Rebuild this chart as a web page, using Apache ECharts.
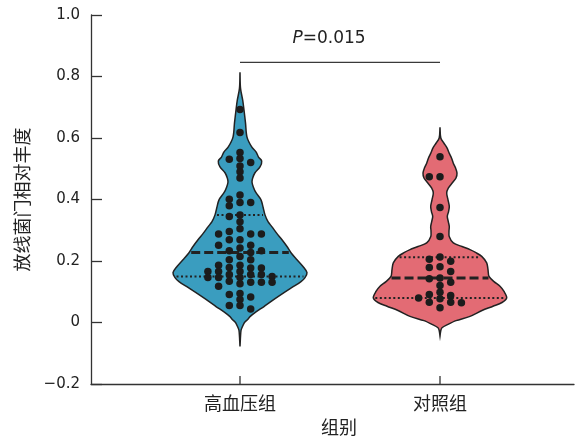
<!DOCTYPE html>
<html>
<head>
<meta charset="utf-8">
<script src="https://cdn.jsdelivr.net/npm/echarts@6/dist/echarts.min.js"></script>
<style>
  html, body { margin: 0; padding: 0; background: #ffffff; }
  #chart { width: 577px; height: 441px; }
</style>
</head>
<body>
<div id="chart"></div>
<script>
// Groups shown on the x axis
const categories = ['高血压组', '对照组'];

// Relative abundance of Actinobacteria per sample
const hypertensionValues = [
  0.693, 0.618, 0.553, 0.533, 0.531, 0.520, 0.509, 0.490, 0.470, 0.415, 0.401, 0.390, 0.390, 0.380, 0.350, 0.345, 0.328,
  0.305, 0.296, 0.288, 0.288, 0.288, 0.269, 0.269, 0.251, 0.251, 0.242, 0.233, 0.233, 0.228, 0.215, 0.204, 0.204,
  0.186, 0.186, 0.179, 0.177, 0.177, 0.166, 0.166, 0.166, 0.156, 0.156, 0.156, 0.150, 0.146, 0.146, 0.146,
  0.134, 0.131, 0.131, 0.131, 0.126, 0.118, 0.094, 0.091, 0.083, 0.075, 0.055, 0.055, 0.044
];
const controlValues = [
  0.539, 0.474, 0.474, 0.374, 0.280,
  0.213, 0.206, 0.199, 0.181, 0.179, 0.166,
  0.145, 0.142, 0.131, 0.120,
  0.098, 0.091, 0.088, 0.080, 0.077,
  0.066, 0.066, 0.064, 0.048
];

// Violin outlines: density levels (top to bottom) and half widths in category units
const hypertensionLevels = [
  0.814, 0.762, 0.723, 0.691, 0.649, 0.603, 0.571, 0.555, 0.538, 0.525, 0.506, 0.487, 0.470, 0.457, 0.441,
  0.422, 0.399, 0.376, 0.350, 0.328, 0.311, 0.289, 0.269, 0.247, 0.227, 0.204, 0.182, 0.162, 0.146, 0.133,
  0.114, 0.097, 0.075, 0.052, 0.032, 0.019, 0.010, 0.000, -0.013, -0.026, -0.078
];
const hypertensionHalfWidths = [
  0, 0.0025, 0.0135, 0.020, 0.0275, 0.035, 0.0585, 0.080, 0.0925, 0.1085, 0.100, 0.075, 0.0635, 0.060, 0.0665,
  0.080, 0.105, 0.115, 0.125, 0.140, 0.160, 0.185, 0.210, 0.235, 0.255, 0.285, 0.315, 0.335, 0.325, 0.305,
  0.260, 0.220, 0.170, 0.120, 0.075, 0.050, 0.0385, 0.0225, 0.0125, 0.005, 0
];
const controlLevels = [
  0.635, 0.600, 0.583, 0.568, 0.550, 0.535, 0.518, 0.503, 0.486, 0.470, 0.457, 0.437, 0.421, 0.399, 0.377,
  0.360, 0.345, 0.328, 0.312, 0.298, 0.280, 0.259, 0.247, 0.237, 0.227, 0.215, 0.194, 0.172, 0.150, 0.133,
  0.118, 0.101, 0.080, 0.065, 0.053, 0.039, 0.020, 0.006, -0.006, -0.017, -0.026, -0.044
];
const controlHalfWidths = [
  0, 0.004, 0.020, 0.035, 0.0465, 0.0575, 0.0665, 0.0775, 0.085, 0.080, 0.065, 0.0415, 0.0335, 0.040, 0.0465,
  0.0425, 0.0365, 0.0415, 0.0465, 0.045, 0.046, 0.0665, 0.110, 0.150, 0.180, 0.2085, 0.2335, 0.240, 0.245, 0.270,
  0.300, 0.320, 0.3335, 0.310, 0.265, 0.210, 0.150, 0.080, 0.040, 0.010, 0.004, 0
];

// Median and quartiles per group
const medians = [0.228, 0.145];
const upperQuartiles = [0.350, 0.212];
const lowerQuartiles = [0.150, 0.080];

// Significance bracket between the two groups
const bracketHeight = 0.846;
const pSymbol = 'P';
const pValue = '0.015';

const yMin = -0.2;
const yMax = 1.0;
const fills = ['#3a9dbf', '#e36b74'];
const ink = '#222222';
const axisColor = '#333333';

const groups = [
  { levels: hypertensionLevels, widths: hypertensionHalfWidths, values: hypertensionValues },
  { levels: controlLevels, widths: controlHalfWidths, values: controlValues }
];

function halfWidthAt(levels, widths, v) {
  for (let i = 0; i < levels.length - 1; i++) {
    const a = levels[i], b = levels[i + 1];
    if (v <= a && v >= b) {
      const t = (a - v) / (a - b);
      return widths[i] + t * (widths[i + 1] - widths[i]);
    }
  }
  return 0;
}

// Simple column beeswarm: each dot goes to the column nearest the centre
// where it does not sit too close to a dot already placed there.
function swarm(values, center) {
  const colStep = 0.0535;
  const minGap = 0.0188;
  const order = values.map((v, i) => i).sort((a, b) => values[b] - values[a]);
  const cols = {};
  const out = new Array(values.length);
  for (const i of order) {
    const v = values[i];
    for (let k = 0; k < 30; k++) {
      const c = k === 0 ? 0 : (k % 2 ? -Math.ceil(k / 2) : Math.ceil(k / 2));
      const list = cols[c] || (cols[c] = []);
      if (list.every(u => Math.abs(u - v) >= minGap)) {
        list.push(v);
        out[i] = [center + c * colStep, v];
        break;
      }
    }
  }
  return out;
}

const numberFont = 'DejaVu Sans';
const cjkFont = 'Noto Sans CJK SC';

const chart = echarts.init(document.getElementById('chart'));

chart.setOption({
  animation: false,
  backgroundColor: '#ffffff',
  grid: { left: 91, top: 15, right: 3, bottom: 56 },
  xAxis: {
    type: 'value',
    min: 0.255,
    max: 2.67,
    splitLine: { show: false },
    axisLine: { show: true, onZero: false, lineStyle: { color: axisColor, width: 1.3 } },
    axisTick: { show: false },
    axisLabel: {
      show: true,
      customValues: [1, 2],
      margin: 10,
      formatter: v => categories[Math.round(v) - 1] || '',
      fontFamily: cjkFont, fontSize: 18, color: ink
    },
    name: '组别',
    nameLocation: 'middle',
    nameGap: 34,
    nameTextStyle: { fontFamily: cjkFont, fontSize: 18, color: ink, padding: [0, 0, 0, 13] }
  },
  yAxis: {
    type: 'value',
    min: yMin,
    max: yMax,
    interval: 0.2,
    splitLine: { show: false },
    axisLine: { show: true, onZero: false, lineStyle: { color: axisColor, width: 1.3 } },
    axisTick: { show: true, inside: true, length: 11, lineStyle: { color: axisColor, width: 1.3 } },
    axisLabel: {
      margin: 11,
      fontFamily: numberFont, fontSize: 15, color: ink,
      formatter: v => Math.abs(v) < 1e-9 ? '0' : v.toFixed(1).replace('-', '\u2212')
    },
    name: '放线菌门相对丰度',
    nameLocation: 'middle',
    nameGap: 60,
    nameTextStyle: { fontFamily: cjkFont, fontSize: 18, color: ink }
  },
  series: [
    {
      // violin bodies with median and quartile lines, plus the group tick on the x axis
      type: 'custom',
      z: 2,
      clip: false,
      data: [[1, 0], [2, 0]],
      encode: { x: 0, y: 1 },
      renderItem: (params, api) => {
        const gi = params.dataIndex;
        const g = groups[gi];
        const cx = gi + 1;
        const pts = [];
        for (let i = 0; i < g.levels.length; i++) pts.push(api.coord([cx + g.widths[i], g.levels[i]]));
        for (let i = g.levels.length - 1; i >= 0; i--) pts.push(api.coord([cx - g.widths[i], g.levels[i]]));
        const children = [{
          type: 'polygon',
          shape: { points: pts, smooth: 0.3 },
          style: { fill: fills[gi], stroke: ink, lineWidth: 1.5 }
        }];
        const addLine = (v, dash, width) => {
          const hw = halfWidthAt(g.levels, g.widths, v);
          const p1 = api.coord([cx - hw, v]);
          const p2 = api.coord([cx + hw, v]);
          children.push({
            type: 'line',
            shape: { x1: p1[0] + 2, y1: p1[1], x2: p2[0] - 2, y2: p2[1] },
            style: { stroke: ink, lineWidth: width, lineDash: dash }
          });
        };
        addLine(upperQuartiles[gi], [2, 2.5], 2);
        addLine(lowerQuartiles[gi], [2, 2.5], 2);
        addLine(medians[gi], [9, 4], 3);
        const base = api.coord([cx, yMin]);
        children.push({
          type: 'line',
          shape: { x1: base[0], y1: base[1], x2: base[0], y2: base[1] - 8 },
          style: { stroke: axisColor, lineWidth: 1.3 }
        });
        return { type: 'group', children };
      }
    },
    {
      type: 'scatter',
      z: 3,
      symbolSize: 7.5,
      itemStyle: { color: '#1c1c1c', opacity: 1 },
      data: swarm(hypertensionValues, 1)
    },
    {
      type: 'scatter',
      z: 3,
      symbolSize: 7.5,
      itemStyle: { color: '#1c1c1c', opacity: 1 },
      data: swarm(controlValues, 2)
    },
    {
      // significance bracket
      type: 'line',
      z: 2,
      symbol: 'none',
      silent: true,
      lineStyle: { color: '#3a3a3a', width: 1.3 },
      data: [[1, bracketHeight], [2, bracketHeight]]
    },
    {
      type: 'custom',
      z: 4,
      data: [[1.5, bracketHeight]],
      encode: { x: 0, y: 1 },
      renderItem: (params, api) => {
        const p = api.coord([api.value(0), api.value(1)]);
        return {
          type: 'text',
          x: p[0] - 11,
          y: p[1] - 24,
          style: {
            text: '{i|' + pSymbol + '}=' + pValue,
            align: 'center',
            verticalAlign: 'middle',
            fontFamily: numberFont,
            fontSize: 17,
            fill: ink,
            rich: { i: { fontStyle: 'italic', fontFamily: numberFont, fontSize: 17, fill: ink } }
          }
        };
      }
    }
  ]
});
</script>
</body>
</html>
